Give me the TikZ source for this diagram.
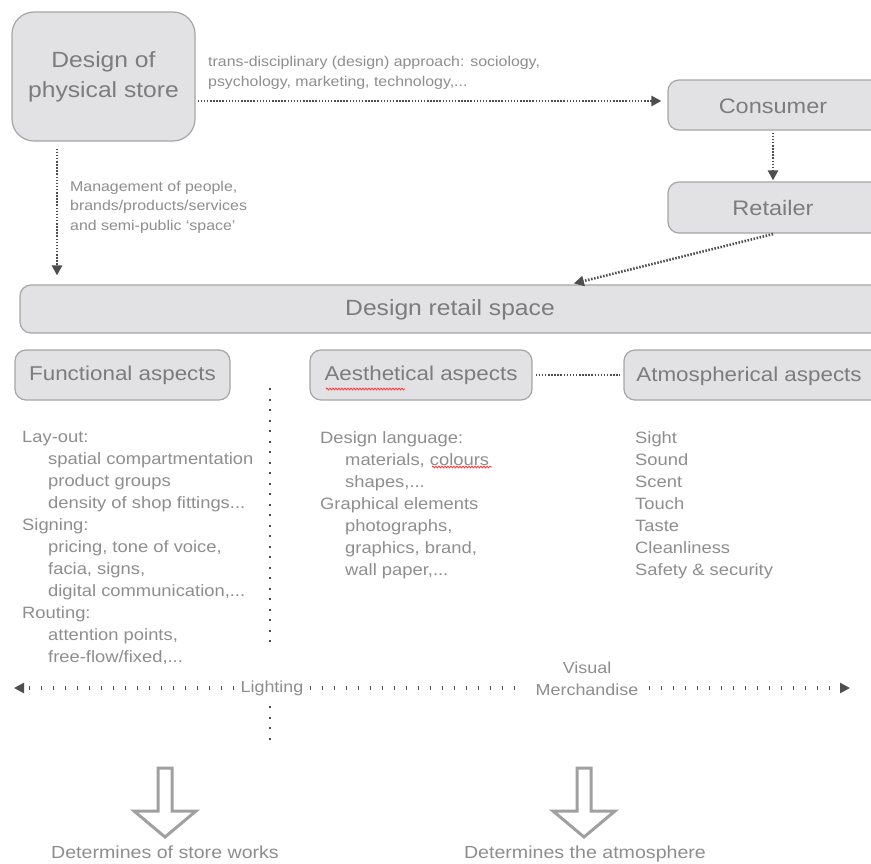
\documentclass[tikz,border=0pt]{standalone}
\usepackage{fontspec}
\setmainfont[FakeStretch=1.12]{Liberation Sans}
\usetikzlibrary{arrows.meta,decorations.pathmorphing}
\definecolor{boxfill}{HTML}{E2E2E4}
\definecolor{boxline}{HTML}{A6A6A6}
\definecolor{boxtext}{HTML}{7C7C7C}
\definecolor{listtext}{HTML}{8E8E8E}
\definecolor{dotcol}{HTML}{4E4E4E}
\definecolor{hollowcol}{HTML}{A0A0A0}
\begin{document}
\begin{tikzpicture}[x=1pt,y=-1pt,
  box/.style={draw=boxline,fill=boxfill,line width=1.2pt,rounded corners=11pt,inner sep=0pt},
  boxtxt/.style={text=boxtext,inner sep=0pt},
  listtxt/.style={text=listtext,align=left,anchor=north west,inner sep=0pt,font=\fontsize{16.4}{22}\selectfont},
  smalltxt/.style={text=listtext,align=left,anchor=north west,inner sep=0pt,font=\fontsize{14.2}{20.5}\selectfont},
  dense/.style={draw=dotcol,line width=2.6pt,dash pattern=on 1.5pt off 1.6pt},
  sparse/.style={draw=dotcol,line width=2.6pt,dash pattern=on 2pt off 8.5pt},
  ticks/.style={draw=dotcol,line width=4pt,dash pattern=on 1.6pt off 10.4pt},
  tip/.style={-{Triangle[length=10pt,width=10pt]}},
  hollow/.style={draw=hollowcol,line width=3pt,fill=white,line join=miter},
  squiggle/.style={draw=red!80,line width=0.8pt,decorate,decoration={snake,amplitude=0.9pt,segment length=3pt}}
]
\clip (0,0) rectangle (871,863);
\fill[white] (0,0) rectangle (871,863);

% top row
\node[box,rounded corners=22pt,minimum width=183pt,minimum height=129pt,
      boxtxt,align=center,font=\fontsize{22}{30}\selectfont] (dps) at (103.5,76.5) {Design of\\physical store};
\node[box,minimum width=230pt,minimum height=50pt] (cons) at (783,105) {};
\node[boxtxt,font=\fontsize{21}{25}\selectfont] (ctxt) at (773,106) {Consumer};
\node[box,minimum width=230pt,minimum height=51pt] (ret) at (783,207.5) {};
\node[boxtxt,font=\fontsize{21}{25}\selectfont] (rtxt) at (773,208) {Retailer};

\node[smalltxt] (tlab) at (208,56) {trans-disciplinary (design) approach: sociology,\\psychology, marketing, technology,...};
\node[smalltxt,font=\fontsize{14.2}{19.5}\selectfont] (mlab) at (70,181) {Management of people,\\brands/products/services\\and semi-public `space'};

% design retail space
\node[box,minimum width=880pt,minimum height=48pt] (drs) at (460,309) {};
\node[boxtxt,font=\fontsize{22}{26}\selectfont] (drst) at (450,310) {Design retail space};

% connectors top
\draw[dense,tip,shorten <=2pt,shorten >=6pt] ([yshift=4pt]dps.east |- cons.west) -- ([yshift=4pt]cons.west);
\draw[dense,tip,shorten <=2pt,shorten >=1pt] (ctxt.south |- cons.south) -- (ctxt.south |- ret.north);
\coordinate (lx) at (57,0);
\draw[dense,tip,shorten <=7pt,shorten >=9pt] (dps.south -| lx) -- (drs.north -| lx);
\coordinate (rdx) at (570,0);
\draw[dense,tip,shorten <=2pt,shorten >=4pt] ([xshift=2pt]rtxt.south |- ret.south) -- (drs.north -| rdx);

% aspects
\node[box,minimum width=215pt,minimum height=50pt,boxtxt,font=\fontsize{20}{24}\selectfont] (fun) at (122.5,375) {Functional aspects};
\node[box,minimum width=222pt,minimum height=50pt,boxtxt,font=\fontsize{20}{24}\selectfont] (aes) at (421,375) {Aesthetical aspects};
\node[box,minimum width=276pt,minimum height=50pt] (atm) at (762,375) {};
\node[boxtxt,font=\fontsize{20}{24}\selectfont] (atmt) at (749,376) {Atmospherical aspects};
\draw[dense,shorten <=3pt,shorten >=3pt] (aes.east) -- (atm.west);
\draw[squiggle] (326,389) -- (405,389);

% lists
\node[listtxt] (flist) at (22,431) {Lay-out:\\
\hspace*{26pt}spatial compartmentation\\
\hspace*{26pt}product groups\\
\hspace*{26pt}density of shop fittings...\\
Signing:\\
\hspace*{26pt}pricing, tone of voice,\\
\hspace*{26pt}facia, signs,\\
\hspace*{26pt}digital communication,...\\
Routing:\\
\hspace*{26pt}attention points,\\
\hspace*{26pt}free-flow/fixed,...};
\node[listtxt] (alist) at (320,431) {Design language:\\
\hspace*{25pt}materials, colours\\
\hspace*{25pt}shapes,...\\
Graphical elements\\
\hspace*{25pt}photographs,\\
\hspace*{25pt}graphics, brand,\\
\hspace*{25pt}wall paper,...};
\draw[squiggle] (432,467) -- (492,467);
\node[listtxt] (mlist) at (635,431) {Sight\\Sound\\Scent\\Touch\\Taste\\Cleanliness\\Safety \& security};

% vertical separator
\coordinate (v1) at (270,388);
\coordinate (v2) at (270,642);
\coordinate (v3) at (270,706);
\coordinate (v4) at (270,746);
\draw[sparse] (v1) -- (v2);
\draw[sparse] (v3) -- (v4);

% horizontal line
\node[text=listtext,inner sep=0pt,font=\fontsize{16}{22}\selectfont] (light) at (272,688) {Lighting};
\node[text=listtext,inner sep=0pt,align=center,font=\fontsize{16}{22}\selectfont] (vm) at (587,679) {Visual\\Merchandise};
\coordinate (hl) at (14,688);
\coordinate (hr) at (850,688);
\draw[ticks,tip,shorten <=6pt] (light.west) -- (hl);
\draw[ticks,shorten <=6pt,shorten >=10pt] (light.east) -- (light.east -| vm.west);
\draw[ticks,tip,shorten <=10pt] (vm.east |- light.east) -- (hr);

% hollow arrows
\foreach \cx in {165,584}
  \draw[hollow] (\cx-7,768) -- (\cx+7,768) -- (\cx+7,811) -- (\cx+31,811) -- (\cx,837) -- (\cx-31,811) -- (\cx-7,811) -- cycle;

\node[text=listtext,inner sep=0pt,anchor=base,font=\fontsize{17.5}{20}\selectfont] (det1) at (165,858.5) {Determines of store works};
\node[text=listtext,inner sep=0pt,anchor=base,font=\fontsize{17.5}{20}\selectfont] (det2) at (585,858.5) {Determines the atmosphere};
\end{tikzpicture}
\end{document}
